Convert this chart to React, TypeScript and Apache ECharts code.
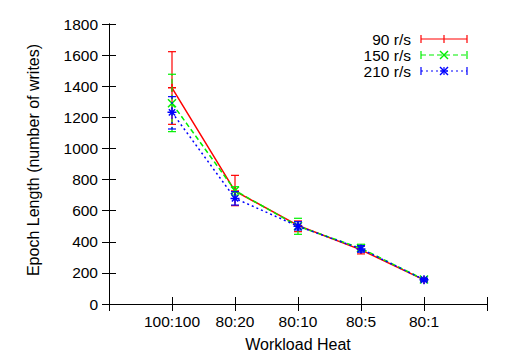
import React, { useEffect, useRef } from "react";
import * as echarts from "echarts";

const categories = ["100:100", "80:20", "80:10", "80:5", "80:1"];
const seriesNames = ["90 r/s", "150 r/s", "210 r/s"];
const xPositions = [1, 2, 3, 4, 5];

const values90 = [1390, 726, 505, 348, 155];
const low90 = [1155, 632, 465, 322, 146];
const high90 = [1622, 827, 534, 372, 164];

const values150 = [1290, 730, 500, 358, 157];
const low150 = [1108, 700, 448, 340, 149];
const high150 = [1477, 754, 551, 384, 165];

const values210 = [1232, 679, 500, 354, 156];
const low210 = [1125, 636, 476, 333, 148];
const high210 = [1333, 722, 529, 375, 164];

const yTicks = { min: 0, max: 1800, interval: 200 };

const FONT = "Liberation Sans, Arial, Helvetica, sans-serif";
const COLORS = ["#ff0000", "#00f000", "#0000ff"];
const DASHES: (number[] | undefined)[] = [undefined, [5, 3], [2, 3]];
const SYMBOLS = [
  "path://M0,5L10,5M5,0L5,10",
  "path://M0,0L10,10M10,0L0,10",
  "path://M0,5L10,5M5,0L5,10M1.5,1.5L8.5,8.5M8.5,1.5L1.5,8.5",
];
const SYMBOL_SIZES = [8, 8, 9];

function lineSeries(i: number, vals: number[]) {
  return {
    type: "line",
    name: seriesNames[i],
    data: xPositions.map((x, k) => [x, vals[k]]),
    symbol: SYMBOLS[i],
    symbolSize: SYMBOL_SIZES[i],
    lineStyle: { color: COLORS[i], width: 1.5, type: DASHES[i] ? DASHES[i] : "solid" },
    itemStyle: { color: COLORS[i], borderColor: COLORS[i], borderWidth: 1.5 },
    z: 3 + i,
  };
}

function errorSeries(i: number, lo: number[], hi: number[]) {
  return {
    type: "custom",
    name: seriesNames[i] + " err",
    data: xPositions.map((x, k) => [x, lo[k], hi[k]]),
    z: 3 + i,
    renderItem: (params: any, api: any) => {
      const x = api.value(0);
      const p1 = api.coord([x, api.value(1)]);
      const p2 = api.coord([x, api.value(2)]);
      const w = 4;
      const style: any = { stroke: COLORS[i], lineWidth: 1.2, fill: null };
      if (DASHES[i]) style.lineDash = DASHES[i];
      return {
        type: "group",
        children: [
          { type: "line", shape: { x1: p1[0], y1: p1[1], x2: p2[0], y2: p2[1] }, style },
          { type: "line", shape: { x1: p1[0] - w, y1: p1[1], x2: p1[0] + w, y2: p1[1] }, style: { ...style, lineDash: null } },
          { type: "line", shape: { x1: p2[0] - w, y1: p2[1], x2: p2[0] + w, y2: p2[1] }, style: { ...style, lineDash: null } },
        ],
      };
    },
  };
}

function legendItem(i: number, y: number) {
  const x1 = 421, x2 = 467, xm = 444;
  const style: any = { stroke: COLORS[i], lineWidth: 1.2 };
  const dashStyle: any = DASHES[i] ? { ...style, lineDash: DASHES[i] } : style;
  const m = 4;
  const markers: any[] = [];
  if (i === 0 || i === 2) {
    markers.push({ type: "line", shape: { x1: xm, y1: y - m, x2: xm, y2: y + m }, style });
  }
  if (i === 1 || i === 2) {
    markers.push({ type: "line", shape: { x1: xm - m, y1: y - m, x2: xm + m, y2: y + m }, style: { ...style, lineWidth: 1.5 } });
    markers.push({ type: "line", shape: { x1: xm - m, y1: y + m, x2: xm + m, y2: y - m }, style: { ...style, lineWidth: 1.5 } });
  }
  if (i === 2) {
    markers.push({ type: "line", shape: { x1: xm - m, y1: y, x2: xm + m, y2: y }, style });
  }
  return [
    {
      type: "text",
      x: 411,
      y: y,
      style: { text: seriesNames[i], font: `15.5px ${FONT}`, fill: "#000", textAlign: "right", textVerticalAlign: "middle" },
    },
    { type: "line", shape: { x1, y1: y, x2, y2: y }, style: dashStyle },
    { type: "line", shape: { x1, y1: y - 4, x2: x1, y2: y + 4 }, style },
    { type: "line", shape: { x1: x2, y1: y - 4, x2, y2: y + 4 }, style },
    ...markers,
  ];
}

export default function App() {
  const ref = useRef<HTMLDivElement>(null);
  useEffect(() => {
    document.body.style.margin = "0";
    if (!ref.current) return;
    const chart = echarts.init(ref.current, undefined, { renderer: "svg" });
    const axisCommon = {
      axisLine: { show: true, lineStyle: { color: "#000", width: 1 } },
      axisTick: { show: true, inside: true, length: 7, lineStyle: { color: "#000" } },
      splitLine: { show: false },
    };
    chart.setOption({
      animation: false,
      backgroundColor: "#fff",
      textStyle: { fontFamily: FONT },
      grid: { left: 109, right: 40, top: 24, bottom: 55, containLabel: false },
      xAxis: [
        {
          type: "value",
          min: 0,
          max: 6,
          interval: 1,
          ...axisCommon,
          axisLabel: {
            color: "#000",
            fontSize: 15.5,
            fontFamily: FONT,
            margin: 9,
            formatter: (v: number) => (v >= 1 && v <= categories.length ? categories[v - 1] : ""),
          },
        },
        {
          type: "value",
          position: "top",
          min: 0,
          max: 6,
          interval: 1,
          ...axisCommon,
          axisLabel: { show: false },
        },
      ],
      yAxis: [
        {
          type: "value",
          min: yTicks.min,
          max: yTicks.max,
          interval: yTicks.interval,
          ...axisCommon,
          axisLabel: { color: "#000", fontSize: 15.5, fontFamily: FONT, margin: 11, formatter: (v: number) => String(v) },
        },
        {
          type: "value",
          position: "right",
          min: yTicks.min,
          max: yTicks.max,
          interval: yTicks.interval,
          ...axisCommon,
          axisLabel: { show: false },
        },
      ],
      graphic: [
        {
          type: "text",
          x: 33,
          y: 160,
          rotation: Math.PI / 2,
          style: {
            text: "Epoch Length (number of writes)",
            font: `16px ${FONT}`,
            fill: "#000",
            textAlign: "center",
            textVerticalAlign: "middle",
          },
        },
        {
          type: "text",
          x: 298,
          y: 344,
          style: {
            text: "Workload Heat",
            font: `16px ${FONT}`,
            fill: "#000",
            textAlign: "center",
            textVerticalAlign: "middle",
          },
        },
        ...legendItem(0, 39),
        ...legendItem(1, 55),
        ...legendItem(2, 71),
      ],
      series: [
        lineSeries(0, values90),
        errorSeries(0, low90, high90),
        lineSeries(1, values150),
        errorSeries(1, low150, high150),
        lineSeries(2, values210),
        errorSeries(2, low210, high210),
      ],
    });
    return () => chart.dispose();
  }, []);
  return <div ref={ref} style={{ width: 527, height: 359 }} />;
}
